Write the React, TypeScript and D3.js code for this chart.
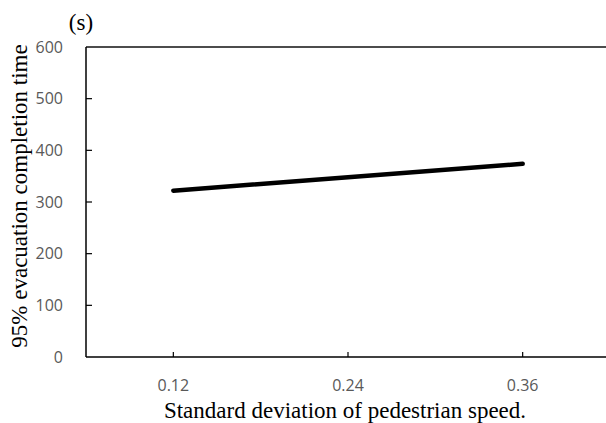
import React from "react";
import * as d3 from "d3";

// Standard deviation of pedestrian speed (categories on the x axis)
const categories = ["0.12", "0.24", "0.36"];
// 95% evacuation completion time, seconds
const completionTime = [322, 348, 374];
// Y-axis tick values
const yTicks = [0, 100, 200, 300, 400, 500, 600];

const W = 606;
const H = 423;
const margin = { left: 86, top: 47, right: -4, bottom: 66 };

export default function App() {
  const x0 = margin.left;
  const x1 = W - margin.right;
  const yTop = margin.top;
  const yBottom = H - margin.bottom;

  const x = d3.scaleBand<string>().domain(categories).range([x0, x1]);
  const y = d3.scaleLinear().domain([0, 600]).range([yBottom, yTop]);

  const line = d3
    .line<number>()
    .x((_, i) => (x(categories[i]) as number) + x.bandwidth() / 2)
    .y((d) => y(d));

  const tickFont = "'Open Sans', 'Liberation Sans', Arial, sans-serif";
  const serif = "'Liberation Serif', 'Times New Roman', serif";

  return (
    <svg
      width={W}
      height={H}
      style={{ position: "absolute", left: 0, top: 0, background: "#fff" }}
    >
      {/* frame: top edge, left axis, bottom axis */}
      <line x1={x0} x2={x1} y1={yTop} y2={yTop} stroke="#111" strokeWidth={1.5} />
      <line x1={x0} x2={x0} y1={yTop} y2={yBottom} stroke="#000" strokeWidth={1.5} />
      <line x1={x0} x2={x1} y1={yBottom} y2={yBottom} stroke="#000" strokeWidth={1.5} />

      {/* y ticks and labels */}
      {yTicks.map((t) => (
        <g key={t}>
          {t > 0 && t < 600 && (
            <line x1={x0} x2={x0 + 6} y1={y(t)} y2={y(t)} stroke="#000" strokeWidth={1.2} />
          )}
          <text
            x={63}
            y={y(t)}
            dy="0.36em"
            textAnchor="end"
            fontFamily={tickFont}
            fontSize={16}
            fill="#595959"
          >
            {t}
          </text>
        </g>
      ))}

      {/* x ticks and labels */}
      {categories.map((c) => {
        const cx = (x(c) as number) + x.bandwidth() / 2;
        return (
          <g key={c}>
            <line x1={cx} x2={cx} y1={yBottom} y2={yBottom - 5} stroke="#000" strokeWidth={1.2} />
            <text
              x={cx}
              y={391}
              textAnchor="middle"
              fontFamily={tickFont}
              fontSize={16}
              fill="#595959"
            >
              {c}
            </text>
          </g>
        );
      })}

      {/* data line */}
      <path
        d={line(completionTime) ?? ""}
        fill="none"
        stroke="#000"
        strokeWidth={4.5}
        strokeLinecap="round"
        strokeLinejoin="round"
      />

      {/* unit label */}
      <text x={81} y={30} textAnchor="middle" fontFamily={serif} fontSize={23} fill="#000">
        (s)
      </text>

      {/* axis titles */}
      <text
        transform={`translate(27, 196) rotate(-90)`}
        textAnchor="middle"
        fontFamily={serif}
        fontSize={23}
        fill="#000"
      >
        95% evacuation completion time
      </text>
      <text x={345} y={418} textAnchor="middle" fontFamily={serif} fontSize={23} fill="#000">
        Standard deviation of pedestrian speed.
      </text>
    </svg>
  );
}
